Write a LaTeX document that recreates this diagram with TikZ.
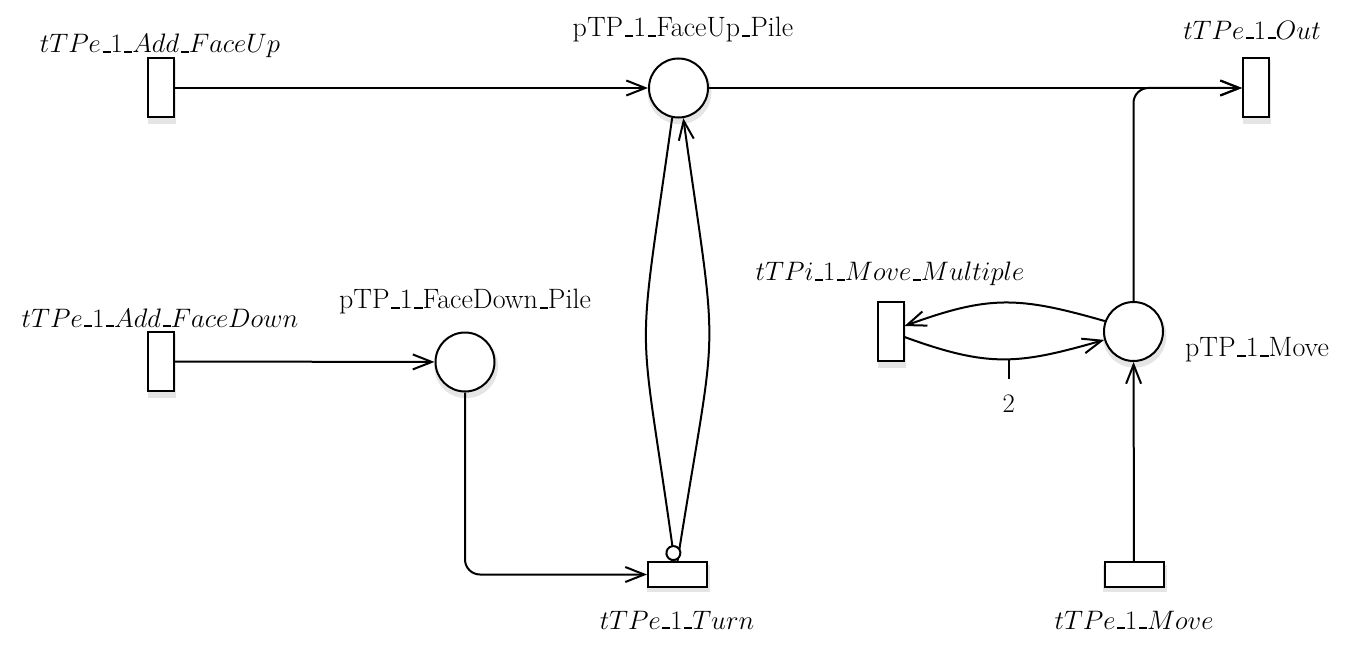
\RequirePackage{fix-cm}
\documentclass[tikz,border=0pt]{standalone}
\usetikzlibrary{arrows.meta,shadows}
\newcommand\usc{\kern.06em\vbox{\hrule width.3em height .07em}}
\begin{document}
\begin{tikzpicture}[x=1pt,y=1pt,line width=2pt,
  >={Straight Barb[length=19pt,width=15pt]},
  shd/.style={drop shadow={fill=black,opacity=0.10,shadow xshift=1pt,shadow yshift=-4pt,shadow scale=1.08}},
  place/.style={circle,draw,fill=white,minimum size=59pt,inner sep=0pt,shd},
  vtrans/.style={rectangle,draw,fill=white,minimum width=26pt,minimum height=59pt,inner sep=0pt,shd},
  htrans/.style={rectangle,draw,fill=white,minimum width=59pt,minimum height=25pt,inner sep=0pt,shd},
  lbl/.style={font=\fontsize{26.7}{32}\selectfont,inner sep=0pt},
  plbl/.style={font=\fontsize{28}{34}\selectfont,inner sep=0pt},
  arc/.style={->,line width=2pt}]
\useasboundingbox (0,0) rectangle (1366,-666);
% nodes
\node[vtrans] (AFU) at (160.5,-88) {};
\node[place]  (FU)  at (678.5,-88) {};
\node[vtrans] (Out) at (1256,-88) {};
\node[vtrans] (AFD) at (160.5,-361.5) {};
\node[place]  (FD)  at (465,-362) {};
\node[htrans] (Turn) at (677.5,-574.5) {};
\node[vtrans] (MM)  at (890.5,-331.5) {};
\node[place]  (MP)  at (1133.5,-331.5) {};
\node[htrans] (Mv)  at (1134,-574.5) {};
% labels
\node[lbl] (lAFU) at (160,-46) {$tTPe\usc1\usc Add\usc FaceUp$};
\node[plbl] (lFU) at (683,-30) {pTP\usc1\usc FaceUp\usc Pile};
\node[lbl] (lOut) at (1252,-30) {$tTPe\usc1\usc Out$};
\node[lbl] (lAFD) at (160,-318) {$tTPe\usc1\usc Add\usc FaceDown$};
\node[plbl] (lFD) at (465,-302) {pTP\usc1\usc FaceDown\usc Pile};
\node[lbl] (lMM) at (890,-274) {$tTPi\usc1\usc Move\usc Multiple$};
\node[plbl] (lMP) at (1257,-350) {pTP\usc1\usc Move};
\node[lbl] (lTurn) at (677,-620) {$tTPe\usc1\usc Turn$};
\node[lbl] (lMv) at (1134,-620) {$tTPe\usc1\usc Move$};
% arcs
\draw[arc] (AFU) -- (FU);
\draw[arc] (FU) -- (Out);
\draw[arc,rounded corners=15pt] (MP.north) |- (Out.west);
\draw[arc] (AFD) -- (FD);
\draw[arc,rounded corners=15pt] (FD.south) |- (Turn.west);
\draw[arc] (Turn.north) to[out=81,in=-82,looseness=1.5] (FU.-81.5);
\draw[-{Circle[fill=white,length=16pt]}] (FU.-102) to[out=-98,in=98,looseness=1.5] ([xshift=-3pt]Turn.north);
\draw[arc] (MP.160.7) to[out=164,in=20,looseness=1.15] ([yshift=5.5pt]MM.east);
\draw[arc] ([yshift=-5.5pt]MM.east) to[out=-20,in=-164,looseness=1.15] coordinate[pos=0.53] (w) (MP.196);
\node[lbl] (l2) at ([yshift=-44pt]w) {2};
\draw (w) -- ([yshift=14pt]l2.north);
\draw[arc] (Mv) -- (MP);
\end{tikzpicture}
\end{document}
